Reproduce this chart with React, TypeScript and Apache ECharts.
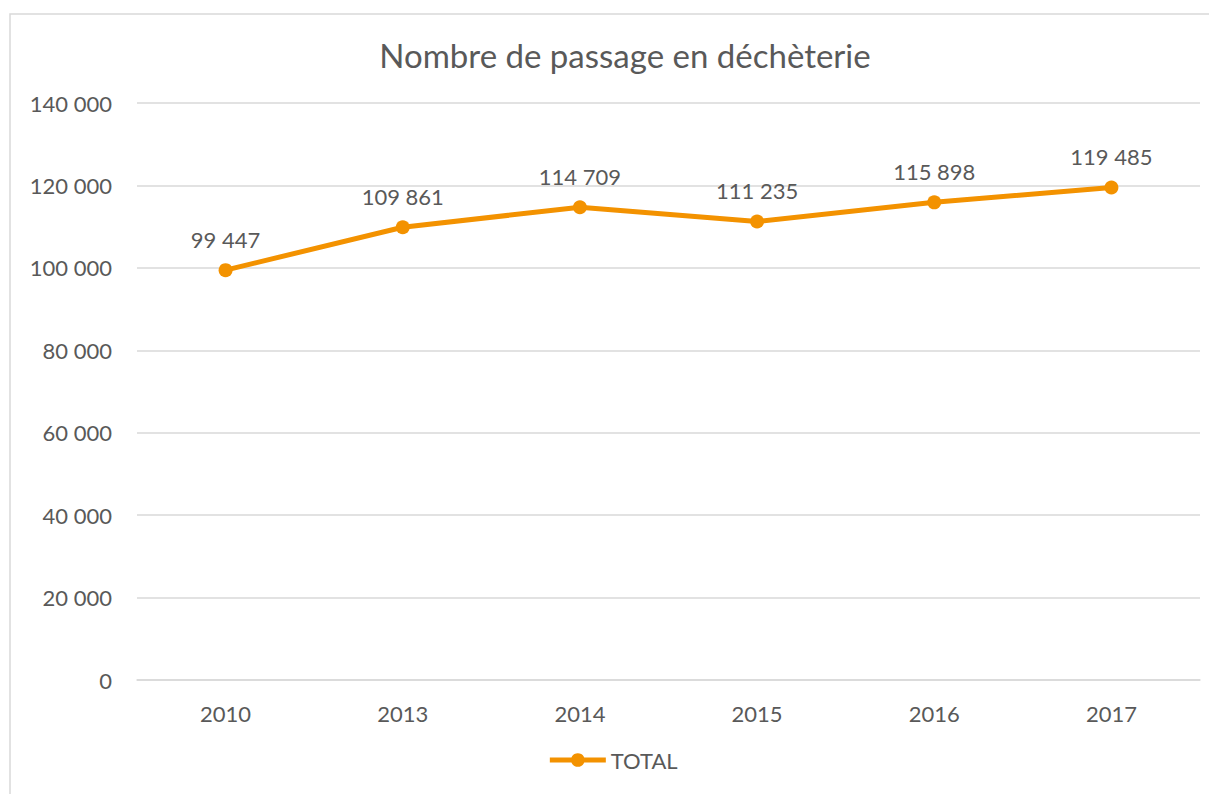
import React, { useEffect, useRef } from "react";
import * as echarts from "echarts";

const categories = ["2010", "2013", "2014", "2015", "2016", "2017"];
const totalValues = [99447, 109861, 114709, 111235, 115898, 119485];
const seriesName = "TOTAL";
const titleText = "Nombre de passage en déchèterie";

const fmt = (v: number) =>
  String(Math.round(v)).replace(/\B(?=(\d{3})+(?!\d))/g, " ");

export default function App() {
  const ref = useRef<HTMLDivElement>(null);
  useEffect(() => {
    if (!ref.current) return;
    const chart = echarts.init(ref.current, null, { renderer: "svg" });
    const font = "Lato";
    const grey = "#595959";
    const orange = "#F39200";
    chart.setOption({
      animation: false,
      textStyle: { fontFamily: font },
      title: {
        text: titleText,
        left: 612,
        textAlign: "center",
        top: 25,
        textStyle: { fontFamily: font, fontSize: 33, fontWeight: "normal", color: grey },
      },
      graphic: [
        {
          type: "rect",
          shape: { x: 2, y: 6, width: 1240, height: 800 },
          style: { fill: "none", stroke: "#D9D9D9", lineWidth: 1.5 },
          silent: true,
        },
      ],
      grid: { left: 129, right: 17, top: 95, bottom: 114 },
      legend: {
        data: [seriesName],
        bottom: 18,
        left: "center",
        itemWidth: 56,
        itemHeight: 17,
        itemGap: 4,
        lineStyle: { width: 5 },
        textStyle: { fontFamily: font, fontSize: 22, color: grey },
      },
      xAxis: {
        type: "category",
        data: categories,
        boundaryGap: true,
        axisLine: { show: true, lineStyle: { color: "#D9D9D9", width: 1.5 } },
        axisTick: { show: false },
        axisLabel: { fontFamily: font, fontSize: 22, color: grey, margin: 22 },
      },
      yAxis: {
        type: "value",
        min: 0,
        max: 140000,
        interval: 20000,
        axisLine: { show: false },
        axisTick: { show: false },
        splitLine: { lineStyle: { color: "#D9D9D9", width: 1.5 } },
        axisLabel: {
          fontFamily: font,
          fontSize: 22,
          color: grey,
          margin: 25,
          formatter: (v: number) => fmt(v),
        },
      },
      series: [
        {
          name: seriesName,
          type: "line",
          data: totalValues,
          symbol: "circle",
          symbolSize: 14,
          itemStyle: { color: orange },
          lineStyle: { color: orange, width: 5 },
          label: {
            show: true,
            position: "top",
            distance: 13,
            fontFamily: font,
            fontSize: 22,
            color: grey,
            formatter: (p: any) => fmt(p.value),
          },
        },
      ],
    });
    return () => chart.dispose();
  }, []);
  return <div ref={ref} style={{ width: 1209, height: 786 }} />;
}
